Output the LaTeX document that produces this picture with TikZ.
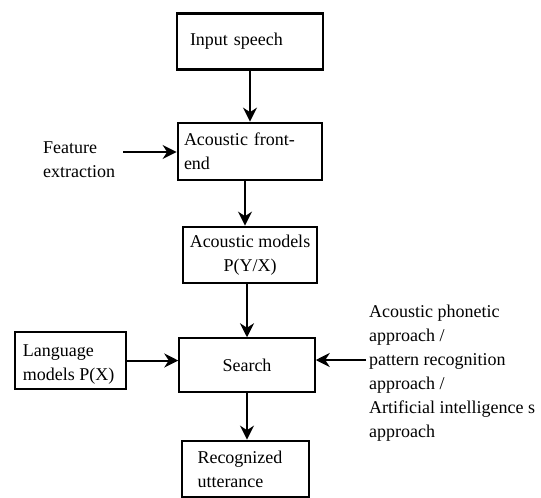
\documentclass[tikz,border=0pt]{standalone}
\usepackage{fontspec}
\setmainfont{Liberation Serif}
\usetikzlibrary{arrows.meta}
\begin{document}
\begin{tikzpicture}[x=1pt,y=-1pt,
  txt/.style={font=\fontsize{18}{24}\selectfont},
  box/.style={draw,line width=2.8pt,minimum width=#1,inner sep=0pt,txt},
  thinbox/.style={draw,line width=1.5pt,inner sep=0pt,txt},
  lbl/.style={inner sep=0pt,txt,align=left},
  arr/.style={line width=2pt,-{Stealth[length=14pt,width=14pt]}}]
\useasboundingbox (0,0) rectangle (541,498);
\node[box=146pt,minimum height=56pt,align=left,text width=120pt] (inp) at (250,41.5) {Input speech};
\node[box=144pt,minimum height=57pt,align=left,text width=132pt] (fe) at (250,151.5) {Acoustic front-\\end};
\node[box=134pt,minimum height=56pt,align=center] (am) at (250,255) {Acoustic models\\P(Y/X)};
\node[thinbox,minimum width=136pt,minimum height=54pt] (se) at (247,365) {Search};
\node[box=111pt,minimum height=57pt] (lm) at (70.5,360.5) {};
\node[lbl,anchor=west] at ([xshift=9pt,yshift=-4pt]lm.west) {Language\\models P(X)};
\node[box=127pt,minimum height=56pt,align=left,text width=96pt] (ru) at (245.5,469) {Recognized\\utterance};
\node[lbl,anchor=north west] (fx) at (43,142) {Feature\\extraction};
\node[lbl,anchor=north west] (ap) at (369,305) {Acoustic phonetic\\approach /\\pattern recognition\\approach /\\Artificial intelligence s\\approach};
\coordinate (fxe) at (123,152);
\coordinate (ape) at (366,360);
\draw[arr] (inp.south) -- (fe.north);
\draw[arr] ([xshift=-5pt]fe.south) -- ([xshift=-5pt]am.north);
\draw[arr] ([xshift=-3pt]am.south) -- ([xshift=0pt]se.north);
\draw[arr] (se.south) -- (se.south |- ru.north);
\draw[arr] (lm.east) -- (lm.east -| se.west);
\draw[arr] (fxe) -- (fxe -| fe.west);
\draw[arr] (ape) -- (ape -| se.east);
\end{tikzpicture}
\end{document}
